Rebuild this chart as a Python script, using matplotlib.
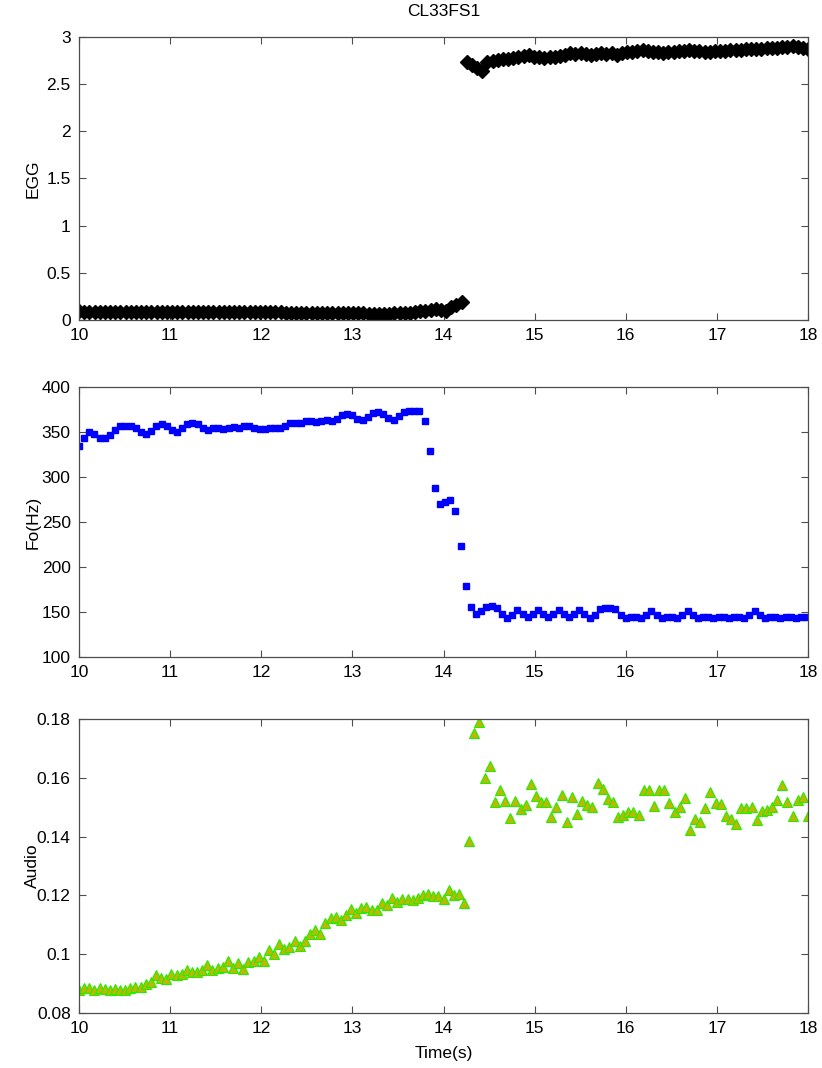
import numpy as np
import matplotlib
matplotlib.use("Agg")
import matplotlib.pyplot as plt

plt.rcParams['font.family'] = ['Liberation Sans', 'DejaVu Sans']

###############################################################################
# Data (time in s)
###############################################################################
t_start, t_end = 10.0, 18.0

# EGG: low (closed) part then high part after the jump
egg_low = [0.090, 0.088, 0.089, 0.088, 0.089, 0.088, 0.089, 0.088, 0.089, 0.088,
           0.089, 0.088, 0.088, 0.087, 0.088, 0.087, 0.088, 0.087, 0.088, 0.087,
           0.087, 0.086, 0.087, 0.086, 0.087, 0.086, 0.086, 0.085, 0.086, 0.085,
           0.084, 0.083, 0.084, 0.083, 0.082, 0.081, 0.082, 0.081, 0.080, 0.080,
           0.079, 0.079, 0.078, 0.077, 0.077, 0.076, 0.075, 0.074, 0.074, 0.073,
           0.072, 0.071, 0.071, 0.070, 0.069, 0.069, 0.068, 0.068, 0.067, 0.067,
           0.068, 0.069, 0.071, 0.074, 0.078, 0.083, 0.090, 0.098, 0.108, 0.120,
           0.110, 0.095, 0.134, 0.159, 0.186]
egg_high = [2.73, 2.70, 2.67, 2.64, 2.73, 2.75, 2.76, 2.77, 2.77, 2.78,
            2.79, 2.80, 2.81, 2.79, 2.79, 2.78, 2.79, 2.79, 2.80, 2.81,
            2.83, 2.82, 2.83, 2.82, 2.81, 2.82, 2.83, 2.82, 2.83, 2.81,
            2.83, 2.84, 2.84, 2.85, 2.86, 2.85, 2.84, 2.84, 2.83, 2.84,
            2.84, 2.85, 2.85, 2.86, 2.85, 2.85, 2.84, 2.84, 2.85, 2.85,
            2.85, 2.86, 2.86, 2.86, 2.87, 2.87, 2.87, 2.87, 2.88, 2.88,
            2.88, 2.89, 2.89, 2.90, 2.89, 2.88, 2.87]

# Fo (Hz)
fo_high = [334, 343, 350, 348, 343, 343, 347, 352, 357, 357,
           357, 354, 350, 348, 351, 357, 359, 357, 352, 350,
           354, 359, 360, 359, 354, 352, 354, 354, 353, 355,
           356, 355, 357, 357, 354, 353, 353, 354, 354, 355,
           357, 360, 360, 360, 362, 362, 361, 362, 363, 362,
           365, 369, 370, 369, 365, 363, 367, 371, 372, 370,
           366, 363, 368, 372, 373, 373, 373]
fo_low = [362, 329, 288, 270, 272, 274, 262, 223, 179, 156,
          148, 151, 156, 157, 154, 148, 143, 147, 152, 148,
          144, 148, 152, 148, 144, 148, 152, 148, 144, 148,
          152, 148, 143, 147, 153, 155, 155, 153, 147, 143,
          145, 145, 143, 147, 151, 147, 143, 145, 145, 143,
          147, 151, 147, 143, 145, 145, 143, 144, 144, 143,
          145, 145, 143, 147, 151, 147, 143, 145, 145, 143,
          145, 145, 143, 145, 145]

# Audio amplitude
audio_rise = [0.0877, 0.0885, 0.0885, 0.0877, 0.0885, 0.0883, 0.0877, 0.0883, 0.0877, 0.0879,
              0.0886, 0.0888, 0.0890, 0.0900, 0.0905, 0.0930, 0.0920, 0.0917, 0.0934, 0.0928,
              0.0934, 0.0947, 0.0939, 0.0941, 0.0947, 0.0962, 0.0947, 0.0954, 0.0958, 0.0976,
              0.0954, 0.0969, 0.0951, 0.0973, 0.0976, 0.0990,
              0.0977, 0.1013, 0.1000, 0.1034, 0.1016, 0.1025, 0.1045, 0.1027, 0.1045, 0.1068,
              0.1081, 0.1068, 0.1106, 0.1124, 0.1126, 0.1117, 0.1135, 0.1154, 0.1140, 0.1158,
              0.1160, 0.1149, 0.1149, 0.1174, 0.1169, 0.1192, 0.1177, 0.1188, 0.1188, 0.1185,
              0.1192, 0.1203, 0.1206, 0.1197, 0.1197, 0.1188, 0.1217, 0.1203, 0.1206, 0.1174]
audio_after = [0.1385, 0.1751, 0.1791, 0.1598, 0.1640, 0.1519, 0.1559, 0.1521, 0.1464, 0.1521,
               0.1493, 0.1507, 0.1578, 0.1539, 0.1517, 0.1517, 0.1465, 0.1499, 0.1542, 0.1448,
               0.1536, 0.1477, 0.1522, 0.1506, 0.1502, 0.1583, 0.1561, 0.1529, 0.1518, 0.1467,
               0.1474, 0.1484, 0.1482, 0.1473, 0.1559, 0.1557, 0.1504, 0.1559, 0.1557, 0.1515,
               0.1484, 0.1502, 0.1531, 0.1422, 0.1460, 0.1451, 0.1497, 0.1550, 0.1514, 0.1510,
               0.1470, 0.1459, 0.1443, 0.1497, 0.1497, 0.1502, 0.1456, 0.1488, 0.1490, 0.1502,
               0.1525, 0.1576, 0.1517, 0.1470, 0.1525, 0.1536, 0.1470]

x_ticks = [10, 11, 12, 13, 14, 15, 16, 17, 18]
egg_ticks = [0, 0.5, 1, 1.5, 2, 2.5, 3]
fo_ticks = [100, 150, 200, 250, 300, 350, 400]
audio_ticks = [0.08, 0.1, 0.12, 0.14, 0.16, 0.18]

###############################################################################
# Plot
###############################################################################
def style_axis(ax, ylim, yticks, ylabel):
    ax.set_xlim(t_start, t_end)
    ax.set_ylim(*ylim)
    ax.set_xticks(x_ticks)
    ax.set_yticks(yticks)
    ax.set_yticklabels([('%g' % v) for v in yticks])
    ax.tick_params(direction='in', length=5, width=0.8, color='0.3',
                   top=True, right=True, labelsize=12.5)
    ax.tick_params(axis='x', pad=6)
    ax.tick_params(axis='y', pad=6)
    for s in ax.spines.values():
        s.set_color('0.3')
        s.set_linewidth(0.9)
    ax.set_ylabel(ylabel, fontsize=12.5)


def main():
    fig = plt.figure(figsize=(8.22, 10.68), dpi=100)
    ax1 = fig.add_axes([0.0961, 0.7004, 0.8869, 0.2650])
    ax2 = fig.add_axes([0.0961, 0.3848, 0.8869, 0.2528])
    ax3 = fig.add_axes([0.0961, 0.0515, 0.8869, 0.2753])

    egg = egg_low + egg_high
    t_egg = np.linspace(t_start, t_end, len(egg))
    ax1.plot(t_egg, egg, linestyle='none', marker='D', markersize=6.8,
             color='black')
    style_axis(ax1, (0, 3), egg_ticks, 'EGG')
    ax1.set_title('CL33FS1', fontsize=12.5, pad=15)

    fo = fo_high + fo_low
    t_fo = np.linspace(t_start, t_end - 0.02, len(fo))
    ax2.plot(t_fo, fo, linestyle='none', marker='s', markersize=4.6,
             color='blue')
    style_axis(ax2, (100, 400), fo_ticks, 'Fo(Hz)')

    audio = audio_rise + audio_after
    t_au = np.linspace(t_start, t_end, len(audio))
    ax3.plot(t_au, audio, linestyle='none', marker='^', markersize=7.6,
             markerfacecolor='#bdb800', markeredgecolor='#22ee00',
             markeredgewidth=0.8)
    style_axis(ax3, (0.08, 0.18), audio_ticks, 'Audio')
    ax3.set_xlabel('Time(s)', fontsize=12.5, labelpad=7)

    for ax in (ax1, ax2, ax3):
        ax.yaxis.set_label_coords(-0.053, 0.5)

    fig.savefig('out.png', dpi=100)


if __name__ == '__main__':
    main()
